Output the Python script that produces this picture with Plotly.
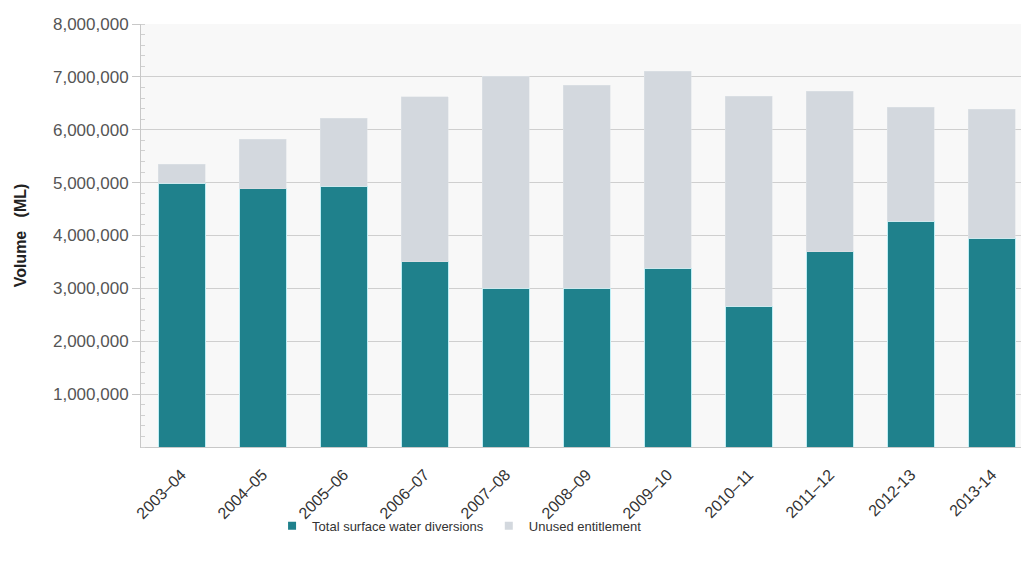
import plotly.graph_objects as go

# Water year categories
years = ["2003–04", "2004–05", "2005–06", "2006–07", "2007–08", "2008–09",
         "2009–10", "2010–11", "2011–12", "2012-13", "2013-14"]

# Total surface water diversions (ML)
diversions = [4990000, 4880000, 4930000, 3500000, 3000000, 3000000,
              3380000, 2660000, 3690000, 4270000, 3950000]

# Total entitlement (ML); unused entitlement is the remainder above diversions
entitlement = [5350000, 5820000, 6220000, 6620000, 7010000, 6840000,
               7110000, 6630000, 6730000, 6430000, 6390000]
unused = [e - d for e, d in zip(entitlement, diversions)]

y_ticks = [1000000, 2000000, 3000000, 4000000, 5000000, 6000000, 7000000, 8000000]

TEAL = "#1f818c"
GREY = "#d3d8de"

fig = go.Figure()
fig.add_trace(go.Bar(
    x=years, y=diversions, name="Total surface water diversions",
    marker=dict(color=TEAL, line=dict(color="#bfeef5", width=1)),
    width=0.58, showlegend=False,
))
fig.add_trace(go.Bar(
    x=years, y=unused, name="Unused entitlement",
    marker=dict(color=GREY, line=dict(color="#dfe3e8", width=0.5)),
    width=0.58, showlegend=False,
))

# Small square legend keys
for name, col in [("Total surface water diversions", TEAL), ("Unused entitlement", GREY)]:
    fig.add_trace(go.Scatter(
        x=[None], y=[None], mode="markers", name=name,
        marker=dict(symbol="square", size=8, color=col),
    ))

fig.update_layout(
    barmode="stack",
    width=1021, height=567,
    margin=dict(l=141, r=0, t=24, b=120),
    paper_bgcolor="white",
    plot_bgcolor="#f8f8f8",
    font=dict(family="Arial, Liberation Sans, sans-serif", size=13, color="#333"),
    showlegend=True,
    legend=dict(orientation="h", x=0.362, xanchor="center", y=-0.186, yanchor="middle",
                font=dict(size=13, color="#333"), itemwidth=30,
                bgcolor="rgba(0,0,0,0)",
                traceorder="normal", tracegroupgap=0),
    xaxis=dict(
        type="category", range=[-0.5, 10.36],
        tickangle=-45, tickfont=dict(size=16, color="#333"),
        ticks="outside", ticklen=11, tickcolor="rgba(0,0,0,0)",
        showline=True, linecolor="#c8c8c8", showgrid=False,
    ),
    yaxis=dict(
        range=[0, 8000000], tickvals=y_ticks, tickformat=",d",
        tickfont=dict(size=17, color="#555"),
        ticks="outside", ticklen=8, tickcolor="#c8c8c8",
        showline=True, linecolor="#c8c8c8",
        gridcolor="#cfcfcf", gridwidth=1, zeroline=False,
        minor=dict(dtick=200000, ticks="inside", ticklen=4, tickcolor="#d0d0d0", showgrid=False),
        title=dict(text="<b>Volume&nbsp;&nbsp;&nbsp;(ML)</b>", font=dict(size=16, color="#222"), standoff=22),
    ),
)

fig.write_html("out.html")
